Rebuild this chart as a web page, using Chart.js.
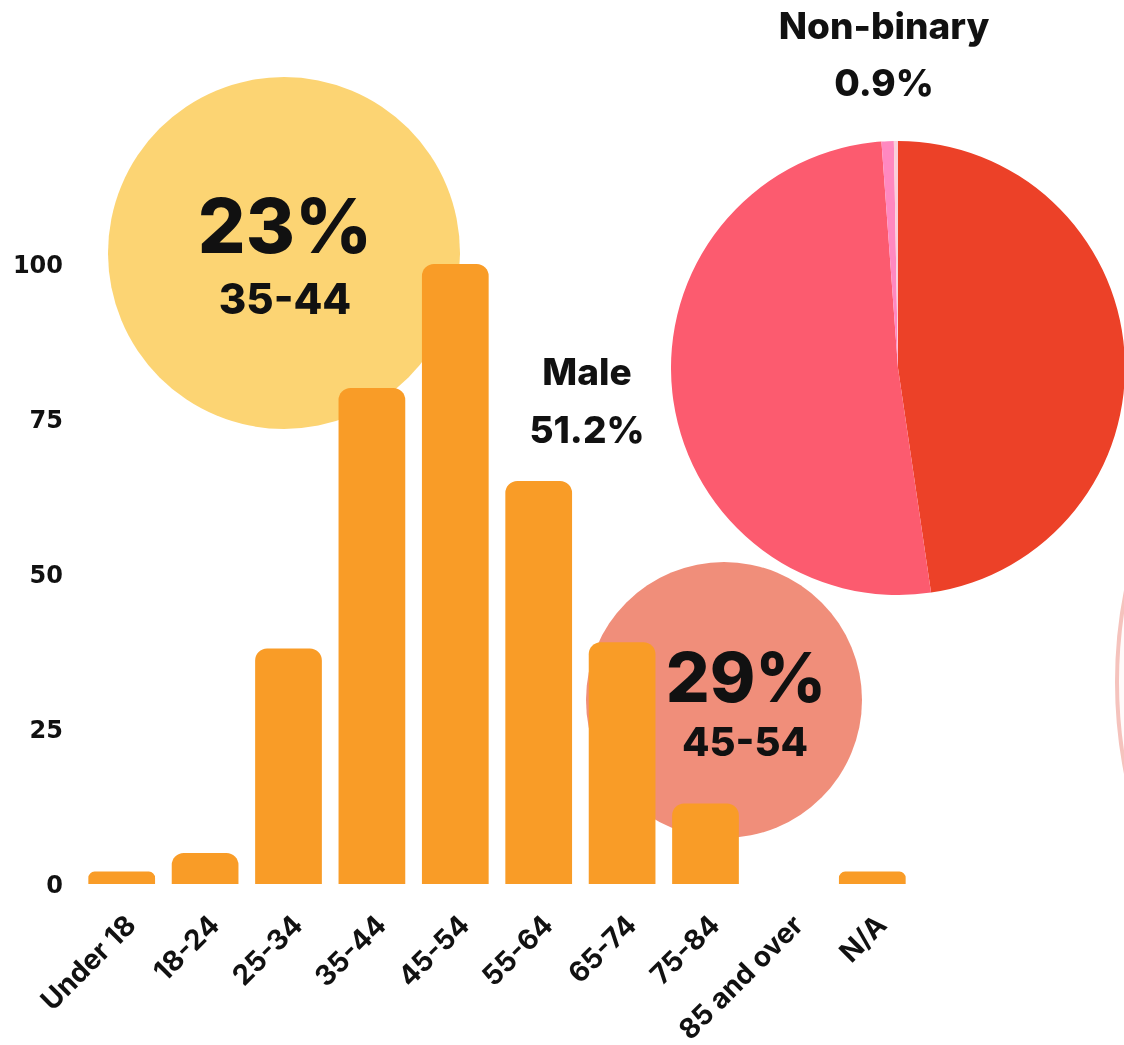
<!DOCTYPE html>
<html><head><meta charset="utf-8">
<script src="https://cdn.jsdelivr.net/npm/chart.js@4.4.0/dist/chart.umd.min.js"></script>
<style>
html,body{margin:0;padding:0;background:#fff;}
#stage{position:relative;width:1124px;height:1045px;overflow:hidden;background:#fff;}
.circle{position:absolute;border-radius:50%;box-sizing:border-box;}
.t{position:absolute;font-family:Inter,'Noto Sans',sans-serif;font-weight:800;color:#111;line-height:1;white-space:nowrap;transform:translateX(-50%);}
canvas{position:absolute;left:0;top:0;}
</style></head>
<body><div id="stage">
<div class="circle" style="left:108px;top:77px;width:352px;height:352px;background:#fcd473"></div>
<div class="circle" style="left:586px;top:562px;width:276px;height:276px;background:#f08e7a"></div>
<div class="circle" style="left:1115px;top:212px;width:940px;height:940px;background:#fffafa;border:4px solid #f5c3bd"></div>
<canvas id="bars" width="1124" height="1045"></canvas>
<canvas id="pie" width="454" height="454" style="left:671px;top:141px"></canvas>
<div class="t" style="left:285px;top:188px;font-size:75px">23%</div>
<div class="t" style="left:285px;top:278px;font-size:42px">35-44</div>
<div class="t" style="left:746px;top:643px;font-size:69px">29%</div>
<div class="t" style="left:745px;top:722px;font-size:40px">45-54</div>
<div class="t" style="left:587px;top:353px;font-size:37px">Male</div>
<div class="t" style="left:587px;top:411px;font-size:37px">51.2%</div>
<div class="t" style="left:884px;top:7px;font-size:37px">Non-binary</div>
<div class="t" style="left:884px;top:64px;font-size:37px">0.9%</div>
</div>
<script>
const ageCategories = ['Under 18','18-24','25-34','35-44','45-54','55-64','65-74','75-84','85 and over','N/A'];
const ageCounts = [2,5,38,80,100,65,39,13,0,2];
const yTickValues = [0,25,50,75,100];
const genderLabels = ['Female','Male','Non-binary','Prefer not to say'];
const genderCounts = [164,176,3,1];
const genderColors = ['#ec4128','#fc5b6f','#ff88c0','#f9d0da'];

new Chart(document.getElementById('bars'), {
  type: 'bar',
  data: { labels: ageCategories, datasets: [{ data: ageCounts, backgroundColor: '#f99c27', borderRadius: 12, borderSkipped: 'start', barPercentage: 0.8, categoryPercentage: 1 }] },
  options: {
    responsive: false, animation: false, events: [],
    layout: { padding: { top: 264, right: 210, left: 0, bottom: 0 } },
    plugins: { legend: { display: false }, tooltip: { enabled: false } },
    scales: {
      x: {
        grid: { display: false, drawTicks: false }, border: { display: false },
        ticks: { autoSkip: false, minRotation: 45, maxRotation: 45, color: '#111', padding: 25, labelOffset: 10,
          font: { family: 'Inter', weight: 'bold', size: 28 } },
        afterFit(s) { s.height = 161; s.paddingLeft = 0; s.paddingRight = 0; }
      },
      y: {
        min: 0, max: 100,
        grid: { display: false, drawTicks: false }, border: { display: false },
        afterBuildTicks(s) { s.ticks = yTickValues.map(v => ({ value: v })); },
        ticks: { color: '#111', padding: 17, labelOffset: 3, font: { family: 'DejaVu Sans', weight: 'bold', size: 24 } },
        afterFit(s) { s.width = 80; s.paddingTop = 0; s.paddingBottom = 0; }
      }
    }
  }
});

new Chart(document.getElementById('pie'), {
  type: 'pie',
  data: { labels: genderLabels, datasets: [{ data: genderCounts, backgroundColor: genderColors, borderWidth: 0 }] },
  options: { responsive: false, animation: false, events: [], layout: { padding: 0 },
    plugins: { legend: { display: false }, tooltip: { enabled: false } } }
});
</script>
</body></html>
